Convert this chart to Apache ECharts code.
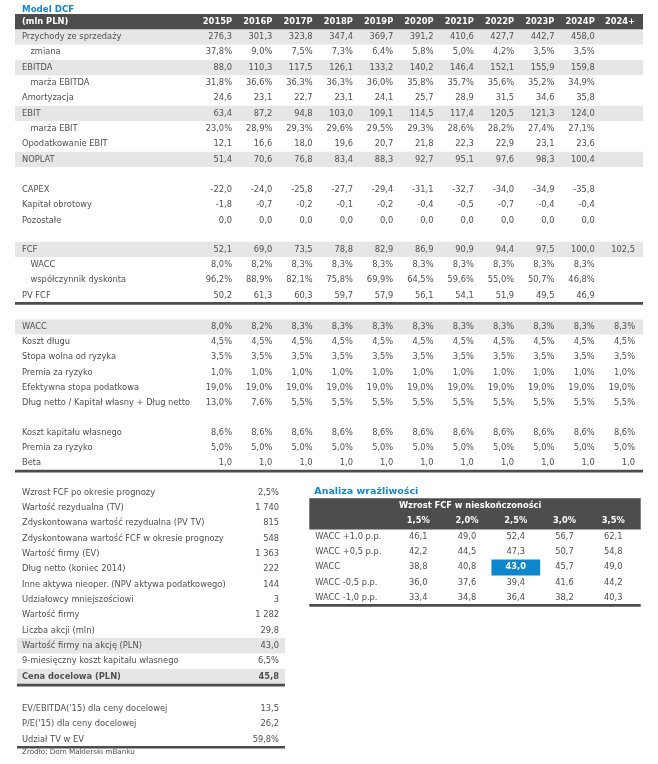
<!DOCTYPE html>
<html>
<head>
<meta charset="utf-8">
<script src="https://cdn.jsdelivr.net/npm/echarts@6/dist/echarts.min.js"></script>
<style>
  html, body { margin: 0; padding: 0; background: #fff; }
  #main { width: 658px; height: 764px; }
</style>
</head>
<body>
<div id="main"></div>
<script>
const years = ['2015P', '2016P', '2017P', '2018P', '2019P', '2020P', '2021P', '2022P', '2023P', '2024P', '2024+'];

const przychody = [276.3, 301.3, 323.8, 347.4, 369.7, 391.2, 410.6, 427.7, 442.7, 458.0];
const zmiana = [37.8, 9.0, 7.5, 7.3, 6.4, 5.8, 5.0, 4.2, 3.5, 3.5];
const ebitda = [88.0, 110.3, 117.5, 126.1, 133.2, 140.2, 146.4, 152.1, 155.9, 159.8];
const marzaEbitda = [31.8, 36.6, 36.3, 36.3, 36.0, 35.8, 35.7, 35.6, 35.2, 34.9];
const amortyzacja = [24.6, 23.1, 22.7, 23.1, 24.1, 25.7, 28.9, 31.5, 34.6, 35.8];
const ebit = [63.4, 87.2, 94.8, 103.0, 109.1, 114.5, 117.4, 120.5, 121.3, 124.0];
const marzaEbit = [23.0, 28.9, 29.3, 29.6, 29.5, 29.3, 28.6, 28.2, 27.4, 27.1];
const opodatkowanie = [12.1, 16.6, 18.0, 19.6, 20.7, 21.8, 22.3, 22.9, 23.1, 23.6];
const noplat = [51.4, 70.6, 76.8, 83.4, 88.3, 92.7, 95.1, 97.6, 98.3, 100.4];
const capex = [-22.0, -24.0, -25.8, -27.7, -29.4, -31.1, -32.7, -34.0, -34.9, -35.8];
const kapitalObrotowy = [-1.8, -0.7, -0.2, -0.1, -0.2, -0.4, -0.5, -0.7, -0.4, -0.4];
const pozostale = [0.0, 0.0, 0.0, 0.0, 0.0, 0.0, 0.0, 0.0, 0.0, 0.0];

const fcf = [52.1, 69.0, 73.5, 78.8, 82.9, 86.9, 90.9, 94.4, 97.5, 100.0, 102.5];
const waccFcf = [8.0, 8.2, 8.3, 8.3, 8.3, 8.3, 8.3, 8.3, 8.3, 8.3];
const wspDyskonta = [96.2, 88.9, 82.1, 75.8, 69.9, 64.5, 59.6, 55.0, 50.7, 46.8];
const pvFcf = [50.2, 61.3, 60.3, 59.7, 57.9, 56.1, 54.1, 51.9, 49.5, 46.9];

const wacc = [8.0, 8.2, 8.3, 8.3, 8.3, 8.3, 8.3, 8.3, 8.3, 8.3, 8.3];
const kosztDlugu = [4.5, 4.5, 4.5, 4.5, 4.5, 4.5, 4.5, 4.5, 4.5, 4.5, 4.5];
const stopaWolna = [3.5, 3.5, 3.5, 3.5, 3.5, 3.5, 3.5, 3.5, 3.5, 3.5, 3.5];
const premiaDlug = [1.0, 1.0, 1.0, 1.0, 1.0, 1.0, 1.0, 1.0, 1.0, 1.0, 1.0];
const stopaPodatkowa = [19.0, 19.0, 19.0, 19.0, 19.0, 19.0, 19.0, 19.0, 19.0, 19.0, 19.0];
const dlugDoKapitalu = [13.0, 7.6, 5.5, 5.5, 5.5, 5.5, 5.5, 5.5, 5.5, 5.5, 5.5];
const kosztKapitalu = [8.6, 8.6, 8.6, 8.6, 8.6, 8.6, 8.6, 8.6, 8.6, 8.6, 8.6];
const premiaKapital = [5.0, 5.0, 5.0, 5.0, 5.0, 5.0, 5.0, 5.0, 5.0, 5.0, 5.0];
const beta = [1.0, 1.0, 1.0, 1.0, 1.0, 1.0, 1.0, 1.0, 1.0, 1.0, 1.0];

const wycenaLabels = ['Wzrost FCF po okresie prognozy', 'Wartość rezydualna (TV)', 'Zdyskontowana wartość rezydualna (PV TV)',
  'Zdyskontowana wartość FCF w okresie prognozy', 'Wartość firmy (EV)', 'Dług netto (koniec 2014)',
  'Inne aktywa nieoper. (NPV aktywa podatkowego)', 'Udziałowcy mniejszościowi', 'Wartość firmy', 'Liczba akcji (mln)',
  'Wartość firmy na akcję (PLN)', '9-miesięczny koszt kapitału własnego', 'Cena docelowa (PLN)'];
const wycenaValues = [2.5, 1740, 815, 548, 1363, 222, 144, 3, 1282, 29.8, 43.0, 6.5, 45.8];
const wycenaUnits = ['%', 'int', 'int', 'int', 'int', 'int', 'int', 'int', 'int', 'dec', 'dec', '%', 'dec'];

const mnoznikiLabels = ["EV/EBITDA('15) dla ceny docelowej", "P/E('15) dla ceny docelowej", 'Udział TV w EV'];
const mnoznikiValues = [13.5, 26.2, 59.8];
const mnoznikiUnits = ['dec', 'dec', '%'];

const wzrostFcf = ['1,5%', '2,0%', '2,5%', '3,0%', '3,5%'];
const waccWarianty = ['WACC +1,0 p.p.', 'WACC +0,5 p.p.', 'WACC', 'WACC -0,5 p.p.', 'WACC -1,0 p.p.'];
const wrazliwosc = [
  [46.1, 49.0, 52.4, 56.7, 62.1],
  [42.2, 44.5, 47.3, 50.7, 54.8],
  [38.8, 40.8, 43.0, 45.7, 49.0],
  [36.0, 37.6, 39.4, 41.6, 44.2],
  [33.4, 34.8, 36.4, 38.2, 40.3]
];

// style
const DARK = '#4d4d4d';
const BAND = '#e6e6e6';
const TEXT = '#505050';
const BLUE = '#1985c9';
const HI = '#0d87cb';
const FONT = '"DejaVu Sans", Verdana, sans-serif';

const dec = v => v.toFixed(1).replace('.', ',');
const pct = v => dec(v) + '%';
const thou = v => String(v).replace(/\B(?=(\d{3})+(?!\d))/g, ' ');
const byUnit = (v, u) => u === '%' ? pct(v) : (u === 'int' ? thou(v) : dec(v));

// wiersze tabel
const blockA = [
  { row: 0, head: true, label: '(mln PLN)', cells: years },
  { row: 1, label: 'Przychody ze sprzedaży', cells: przychody.map(dec), shade: true },
  { row: 2, label: 'zmiana', cells: zmiana.map(pct), indent: true },
  { row: 3, label: 'EBITDA', cells: ebitda.map(dec), shade: true },
  { row: 4, label: 'marża EBITDA', cells: marzaEbitda.map(pct), indent: true },
  { row: 5, label: 'Amortyzacja', cells: amortyzacja.map(dec) },
  { row: 6, label: 'EBIT', cells: ebit.map(dec), shade: true },
  { row: 7, label: 'marża EBIT', cells: marzaEbit.map(pct), indent: true },
  { row: 8, label: 'Opodatkowanie EBIT', cells: opodatkowanie.map(dec) },
  { row: 9, label: 'NOPLAT', cells: noplat.map(dec), shade: true },
  { row: 11, label: 'CAPEX', cells: capex.map(dec) },
  { row: 12, label: 'Kapitał obrotowy', cells: kapitalObrotowy.map(dec) },
  { row: 13, label: 'Pozostałe', cells: pozostale.map(dec) }
];
const blockC = [
  { row: 0, label: 'FCF', cells: fcf.map(dec), shade: true },
  { row: 1, label: 'WACC', cells: waccFcf.map(pct), indent: true },
  { row: 2, label: 'współczynnik dyskonta', cells: wspDyskonta.map(pct), indent: true },
  { row: 3, label: 'PV FCF', cells: pvFcf.map(dec), rule: -1 }
];
const blockD = [
  { row: 0, label: 'WACC', cells: wacc.map(pct), shade: true },
  { row: 1, label: 'Koszt długu', cells: kosztDlugu.map(pct) },
  { row: 2, label: 'Stopa wolna od ryzyka', cells: stopaWolna.map(pct) },
  { row: 3, label: 'Premia za ryzyko', cells: premiaDlug.map(pct) },
  { row: 4, label: 'Efektywna stopa podatkowa', cells: stopaPodatkowa.map(pct) },
  { row: 5, label: 'Dług netto / Kapitał własny + Dług netto', cells: dlugDoKapitalu.map(pct) },
  { row: 7, label: 'Koszt kapitału własnego', cells: kosztKapitalu.map(pct) },
  { row: 8, label: 'Premia za ryzyko', cells: premiaKapital.map(pct) },
  { row: 9, label: 'Beta', cells: beta.map(dec), rule: -0.8 }
];
const blockF1 = wycenaLabels.map((l, i) => ({
  row: i, label: l, cells: [byUnit(wycenaValues[i], wycenaUnits[i])],
  shade: i === 10 || i === 12, bold: i === 12, rule: i === 12 ? -0.2 : null
}));
const blockF2 = mnoznikiLabels.map((l, i) => ({
  row: i, label: l, cells: [byUnit(mnoznikiValues[i], mnoznikiUnits[i])], rule: i === 2 ? -1.2 : null
}));
const blockG = [
  { row: 0, head: true, caption: 'Wzrost FCF w nieskończoności' },
  { row: 1, head: true, cells: wzrostFcf }
].concat(waccWarianty.map((l, i) => ({
  row: i + 2, label: l, cells: wrazliwosc[i].map(dec), hi: i === 2 ? 2 : null, rule: i === 4 ? -1.6 : null
})));

function txt(x, y, s, align, fill, bold) {
  return {
    type: 'text', x: x, y: y,
    style: {
      text: s, fill: fill, align: align, verticalAlign: 'middle',
      textAlign: align, textVerticalAlign: 'middle',
      font: (bold ? 'bold ' : '') + '8.3px ' + FONT
    }
  };
}
function box(x, y, w, h, fill) {
  return { type: 'rect', shape: { x: x, y: y, width: w, height: h }, style: { fill: fill } };
}

function table(gi, rows, align, pad) {
  return {
    type: 'custom',
    coordinateSystem: 'cartesian2d',
    xAxisIndex: gi,
    yAxisIndex: gi,
    silent: true,
    animation: false,
    data: rows.map(r => [0, r.row]),
    renderItem: function (params, api) {
      const r = rows[params.dataIndex];
      const cs = params.coordSys;
      const y = api.coord([0, api.value(1)])[1];
      const h = api.size([0, 1])[1];
      const kids = [];
      if (r.head) kids.push(box(cs.x, y - h / 2, cs.width, h + 0.6, DARK));
      else if (r.shade) kids.push(box(cs.x, y - h / 2, cs.width, h, BAND));
      const color = r.head ? '#fff' : TEXT;
      const bold = !!(r.head || r.bold);
      if (r.label) kids.push(txt(cs.x + pad + (r.indent ? 8.5 : 0), y, r.label, 'left', color, bold));
      if (r.caption) kids.push(txt(api.coord([-0.5, 0])[0] + 5, y, r.caption, 'left', color, true));
      (r.cells || []).forEach((c, j) => {
        const x = api.coord([j, 0])[0];
        if (r.hi === j) {
          const x0 = api.coord([j - 0.5, 0])[0];
          const x1 = api.coord([j + 0.5, 0])[0];
          kids.push(box(x0, y - h / 2, x1 - x0, h + 0.6, HI));
          kids.push(txt(x, y, c, align, '#fff', true));
        } else {
          kids.push(txt(x, y, c, align, color, bold));
        }
      });
      if (r.rule != null) kids.push(box(cs.x, y + h / 2 + r.rule, cs.width, 2.7, DARK));
      return { type: 'group', children: kids };
    }
  };
}

const cats = n => Array.from({ length: n }, (_, i) => 'r' + i);

const grids = [
  { left: 15, top: 14, width: 628, height: 214.2 },    // A
  { left: 15, top: 241.8, width: 628, height: 61.2 },  // C
  { left: 15, top: 319.5, width: 628, height: 151 },   // D
  { left: 17, top: 485, width: 268, height: 199 },     // F1
  { left: 17, top: 701.5, width: 268, height: 45.6 },  // F2
  { left: 309.3, top: 498.3, width: 331.4, height: 107.3 } // G
];
const xRanges = [
  [-5.385, 10.198], [-5.385, 10.198], [-5.385, 10.198],
  [-0.9776, 0.0224], [-0.9776, 0.0224],
  [-2.236, 4.562]
];
const rowCounts = [14, 4, 10, 13, 3, 7];

const chart = echarts.init(document.getElementById('main'), null, { renderer: 'canvas' });
chart.setOption({
  backgroundColor: '#fff',
  animation: false,
  grid: grids.map(g => Object.assign({ containLabel: false, outerBoundsMode: 'none' }, g)),
  xAxis: xRanges.map((r, i) => ({ type: 'value', gridIndex: i, min: r[0], max: r[1], show: false })),
  yAxis: rowCounts.map((n, i) => ({ type: 'category', gridIndex: i, data: cats(n), inverse: true, show: false })),
  series: [
    table(0, blockA, 'right', 7),
    table(1, blockC, 'right', 7),
    table(2, blockD, 'right', 7),
    table(3, blockF1, 'right', 5),
    table(4, blockF2, 'right', 5),
    table(5, blockG, 'center', 6)
  ],
  graphic: [
    { type: 'text', x: 22, y: 9.8, style: { text: 'Model DCF', fill: BLUE, font: 'bold 8.7px ' + FONT, verticalAlign: 'middle', textVerticalAlign: 'middle' } },
    { type: 'text', x: 314.3, y: 492, style: { text: 'Analiza wrażliwości', fill: BLUE, font: 'bold 9.5px ' + FONT, verticalAlign: 'middle', textVerticalAlign: 'middle' } },
    { type: 'text', x: 22, y: 752, style: { text: 'Źródło: Dom Maklerski mBanku', fill: TEXT, font: '7.2px ' + FONT, verticalAlign: 'middle', textVerticalAlign: 'middle' } }
  ]
});
</script>
</body>
</html>
